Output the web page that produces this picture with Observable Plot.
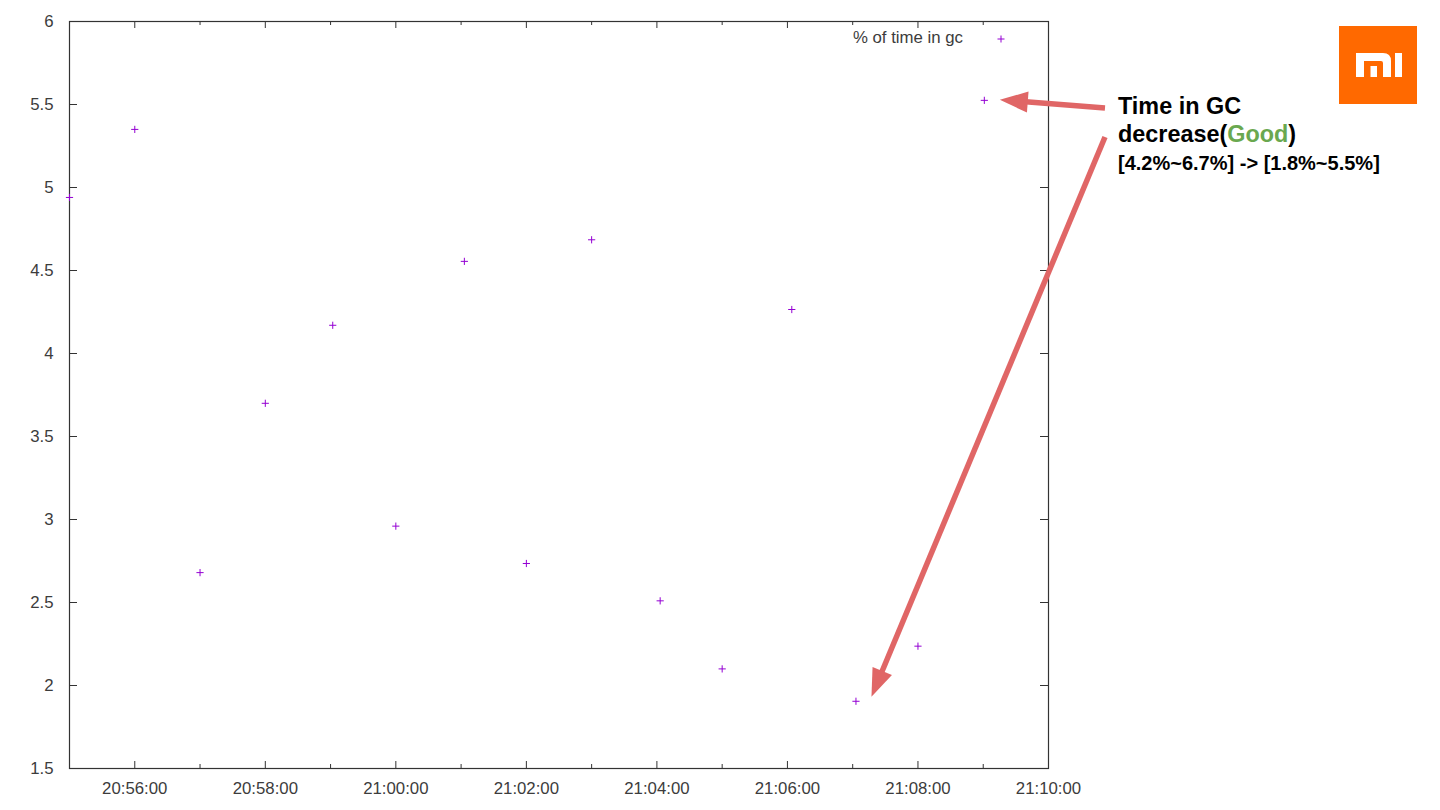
<!DOCTYPE html>
<html>
<head>
<meta charset="utf-8">
<script src="https://cdn.jsdelivr.net/npm/d3@7"></script>
<script src="https://cdn.jsdelivr.net/npm/@observablehq/plot@0.6"></script>
<style>
  html, body { margin: 0; padding: 0; background: #fff; }
  #chart svg { display: block; }
</style>
</head>
<body>
<div id="chart"></div>
<script>
// ---- data ----
const sampleTimes = ["20:55:00","20:56:00","20:57:00","20:58:00","20:59:02","21:00:00","21:01:03","21:02:00","21:03:00","21:04:03","21:05:00","21:06:04","21:07:03","21:08:00","21:09:01"];
const gcPercent = [4.94, 5.35, 2.68, 3.70, 4.17, 2.96, 4.555, 2.735, 4.685, 2.51, 2.10, 4.265, 1.905, 2.237, 5.525];
const xDomain = ["20:55:00", "21:10:00"];
const xMajorTicks = ["20:56:00","20:58:00","21:00:00","21:02:00","21:04:00","21:06:00","21:08:00","21:10:00"];
const xMinorTicks = ["20:57:00","20:59:00","21:01:00","21:03:00","21:05:00","21:07:00","21:09:00"];
const yDomain = [1.5, 6];
const yTicks = [1.5, 2, 2.5, 3, 3.5, 4, 4.5, 5, 5.5, 6];
const seriesName = "% of time in gc";
const noteLine1 = "Time in GC";
const noteLine2a = "decrease(";
const noteLine2b = "Good";
const noteLine2c = ")";
const noteLine3 = "[4.2%~6.7%] -> [1.8%~5.5%]";

const parseT = s => new Date(`2020-01-01T${s}Z`);
const data = sampleTimes.map((t, i) => ({time: parseT(t), value: gcPercent[i]}));

const W = 1440, H = 810;
const mL = 69, mR = 392, mT = 21, mB = 42;
const plotW = W - mL - mR, plotH = H - mT - mB;
const purple = "#9400d3";
const axisColor = "#333";
const labelColor = "#3c3c3c";

const plusSymbol = {
  draw(ctx, size) {
    const r = Math.sqrt(size / Math.PI);
    ctx.moveTo(-r, 0); ctx.lineTo(r, 0);
    ctx.moveTo(0, -r); ctx.lineTo(0, r);
  }
};

const fmt = d3.utcFormat("%H:%M:%S");

const chart = Plot.plot({
  width: W, height: H,
  marginLeft: mL, marginRight: mR, marginTop: mT, marginBottom: mB,
  style: {fontFamily: "'Liberation Sans', Arial, sans-serif", fontSize: "16.8px", color: labelColor, background: "#fff"},
  x: {type: "utc", domain: xDomain.map(parseT)},
  y: {domain: yDomain},
  marks: [
    // inward ticks (gnuplot style), bottom & top
    Plot.tickX(xMajorTicks.map(parseT), {x: d => d, insetTop: plotH - 7, stroke: axisColor}),
    Plot.tickX(xMajorTicks.map(parseT), {x: d => d, insetBottom: plotH - 7, stroke: axisColor}),
    Plot.tickX(xMinorTicks.map(parseT), {x: d => d, insetTop: plotH - 4, stroke: axisColor}),
    Plot.tickX(xMinorTicks.map(parseT), {x: d => d, insetBottom: plotH - 4, stroke: axisColor}),
    // left & right
    Plot.tickY(yTicks, {y: d => d, insetRight: plotW - 8, stroke: axisColor}),
    Plot.tickY(yTicks, {y: d => d, insetLeft: plotW - 8, stroke: axisColor}),
    Plot.axisX({ticks: xMajorTicks.map(parseT), tickSize: 0, tickPadding: 14, tickFormat: fmt, label: null, fill: labelColor}),
    Plot.axisY({ticks: yTicks, tickSize: 0, tickPadding: 16, tickFormat: d => String(d), label: null, fill: labelColor}),
    Plot.frame({stroke: axisColor, strokeWidth: 1.2}),
    Plot.dot(data, {x: "time", y: "value", symbol: plusSymbol, r: 3.6, stroke: purple, strokeWidth: 1, fill: "none"})
  ]
});

document.getElementById("chart").appendChild(chart);

// ---- annotations overlay ----
const svg = d3.select(chart);
const sx = chart.scale("x"), sy = chart.scale("y");
const tFont = "'Liberation Sans', Arial, sans-serif";

// legend (gnuplot key, top-right inside the frame)
const legendY = mT + 18;
svg.append("text")
  .attr("x", W - mR - 85).attr("y", legendY)
  .attr("text-anchor", "end").attr("dominant-baseline", "middle")
  .attr("font-family", tFont).attr("font-size", 16.8)
  .attr("fill", labelColor).text(seriesName);
svg.append("path")
  .attr("d", `M${W - mR - 50.5},${legendY} h7 M${W - mR - 47},${legendY - 3.5} v7`)
  .attr("stroke", purple).attr("fill", "none");

// arrows
const red = "#e06666";
function arrow(x0, y0, x1, y1) {
  const dx = x1 - x0, dy = y1 - y0, len = Math.hypot(dx, dy);
  const ux = dx / len, uy = dy / len, px = -uy, py = ux;
  const headL = 28, headW = 10.5;
  const bx = x1 - ux * headL, by = y1 - uy * headL;
  svg.append("line").attr("x1", x0).attr("y1", y0).attr("x2", bx + ux * 2).attr("y2", by + uy * 2)
    .attr("stroke", red).attr("stroke-width", 5.5);
  svg.append("path")
    .attr("d", `M${x1},${y1} L${bx + px * headW},${by + py * headW} L${bx - px * headW},${by - py * headW} Z`)
    .attr("fill", red);
}
const last = data[data.length - 1];
const minPt = data.reduce((a, b) => (b.value < a.value ? b : a));
arrow(1105, 108, sx.apply(last.time) + 16, sy.apply(last.value));
arrow(1105, 137, sx.apply(minPt.time) + 16, sy.apply(minPt.value) - 4);

// annotation text
svg.append("text").attr("x", 1118).attr("y", 113.5).attr("text-anchor", "start")
  .attr("font-family", tFont).attr("font-weight", "bold").attr("font-size", 23.4)
  .attr("fill", "#000").text(noteLine1);
const t2 = svg.append("text").attr("x", 1118).attr("y", 141.5).attr("text-anchor", "start")
  .attr("font-family", tFont).attr("font-weight", "bold").attr("font-size", 23.4).attr("fill", "#000");
t2.append("tspan").text(noteLine2a);
t2.append("tspan").attr("fill", "#6aa84f").text(noteLine2b);
t2.append("tspan").text(noteLine2c);
svg.append("text").attr("x", 1118).attr("y", 170).attr("text-anchor", "start")
  .attr("font-family", tFont).attr("font-weight", "bold").attr("font-size", 20)
  .attr("fill", "#000").text(noteLine3);

// Mi logo
const logo = svg.append("g").attr("transform", "translate(1339,26)");
logo.append("rect").attr("width", 78).attr("height", 78).attr("fill", "#ff6900");
logo.append("path")
  .attr("d", "M17,51 V27 H44 Q52,27 52,35 V51 H44 V37 Q44,35 42,35 H25 V51 Z M31.5,40 H38 V51 H31.5 Z M56,27 H63 V51 H56 Z")
  .attr("fill", "#fff");
</script>
</body>
</html>
